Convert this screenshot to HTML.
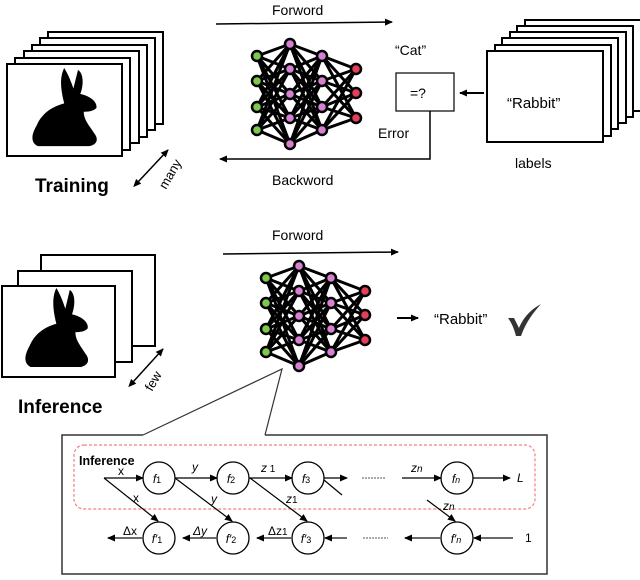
<!DOCTYPE html>
<html><head><meta charset="utf-8"><style>
body{margin:0;background:#fff}
svg{display:block}
text{font-family:"Liberation Sans",sans-serif}
</style></head><body>
<svg width="640" height="580" viewBox="0 0 640 580" xmlns="http://www.w3.org/2000/svg">
<defs>
<marker id="ah" markerWidth="8" markerHeight="8" refX="7" refY="4" orient="auto" markerUnits="userSpaceOnUse"><path d="M0,0.5 L8,4 L0,7.5 Z" fill="#000"/></marker>
<marker id="ah2" markerWidth="8" markerHeight="8" refX="1" refY="4" orient="auto-start-reverse" markerUnits="userSpaceOnUse"><path d="M0,0.5 L8,4 L0,7.5 Z" fill="#000"/></marker>
<path id="bun" d="M28,0 C32,8 34,15 36,22 L40,2 C45,6 45,18 42,28 C50,30 57,36 56,43 C53,47 48,47 45,47 C45,56 50,62 54,70 C58,76 57,82 50,84 L5,84 C-2,80 0,70 4,62 C8,50 16,42 28,38 C26,28 23,12 28,0 Z"/>
</defs>

<g fill="#fff" stroke="#000" stroke-width="2">
<rect x="48" y="32" width="115" height="92"/>
<rect x="40" y="38" width="115" height="92"/>
<rect x="32" y="45" width="115" height="92"/>
<rect x="24" y="51" width="115" height="92"/>
<rect x="15" y="58" width="115" height="92"/>
<rect x="7" y="64" width="115" height="92"/>
</g>
<use href="#bun" transform="translate(32,68) scale(1.15,0.93)" fill="#000"/>
<line x1="138" y1="182" x2="168" y2="150" stroke="#000" stroke-width="1.5" marker-start="url(#ah2)" marker-end="url(#ah)"/>
<text x="166" y="190" font-size="13" transform="rotate(-60 166 190)">many</text>
<text x="35" y="192" font-size="19" font-weight="bold">Training</text>

<text x="272" y="15" font-size="14">Forword</text>
<line x1="216" y1="24" x2="392" y2="22" stroke="#000" stroke-width="1.5" marker-end="url(#ah)"/>

<g id="net1" stroke="#000" stroke-width="3">
<g>
<line x1="257" y1="56" x2="290" y2="44"/><line x1="257" y1="56" x2="290" y2="69"/><line x1="257" y1="56" x2="290" y2="94"/><line x1="257" y1="56" x2="290" y2="118"/><line x1="257" y1="56" x2="290" y2="144"/>
<line x1="257" y1="81" x2="290" y2="44"/><line x1="257" y1="81" x2="290" y2="69"/><line x1="257" y1="81" x2="290" y2="94"/><line x1="257" y1="81" x2="290" y2="118"/><line x1="257" y1="81" x2="290" y2="144"/>
<line x1="257" y1="107" x2="290" y2="44"/><line x1="257" y1="107" x2="290" y2="69"/><line x1="257" y1="107" x2="290" y2="94"/><line x1="257" y1="107" x2="290" y2="118"/><line x1="257" y1="107" x2="290" y2="144"/>
<line x1="257" y1="130" x2="290" y2="44"/><line x1="257" y1="130" x2="290" y2="69"/><line x1="257" y1="130" x2="290" y2="94"/><line x1="257" y1="130" x2="290" y2="118"/><line x1="257" y1="130" x2="290" y2="144"/>
<line x1="322" y1="56" x2="290" y2="44"/><line x1="322" y1="56" x2="290" y2="69"/><line x1="322" y1="56" x2="290" y2="94"/><line x1="322" y1="56" x2="290" y2="118"/><line x1="322" y1="56" x2="290" y2="144"/>
<line x1="322" y1="81" x2="290" y2="44"/><line x1="322" y1="81" x2="290" y2="69"/><line x1="322" y1="81" x2="290" y2="94"/><line x1="322" y1="81" x2="290" y2="118"/><line x1="322" y1="81" x2="290" y2="144"/>
<line x1="322" y1="107" x2="290" y2="44"/><line x1="322" y1="107" x2="290" y2="69"/><line x1="322" y1="107" x2="290" y2="94"/><line x1="322" y1="107" x2="290" y2="118"/><line x1="322" y1="107" x2="290" y2="144"/>
<line x1="322" y1="130" x2="290" y2="44"/><line x1="322" y1="130" x2="290" y2="69"/><line x1="322" y1="130" x2="290" y2="94"/><line x1="322" y1="130" x2="290" y2="118"/><line x1="322" y1="130" x2="290" y2="144"/>
<line x1="322" y1="56" x2="356" y2="69"/><line x1="322" y1="56" x2="356" y2="93"/><line x1="322" y1="56" x2="356" y2="118"/>
<line x1="322" y1="81" x2="356" y2="69"/><line x1="322" y1="81" x2="356" y2="93"/><line x1="322" y1="81" x2="356" y2="118"/>
<line x1="322" y1="107" x2="356" y2="69"/><line x1="322" y1="107" x2="356" y2="93"/><line x1="322" y1="107" x2="356" y2="118"/>
<line x1="322" y1="130" x2="356" y2="69"/><line x1="322" y1="130" x2="356" y2="93"/><line x1="322" y1="130" x2="356" y2="118"/>
</g>
<g stroke-width="2.5">
<circle cx="257" cy="56" r="5" fill="#7ec850"/><circle cx="257" cy="81" r="5" fill="#7ec850"/><circle cx="257" cy="107" r="5" fill="#7ec850"/><circle cx="257" cy="130" r="5" fill="#7ec850"/>
<circle cx="290" cy="44" r="5" fill="#d77fd0"/><circle cx="290" cy="69" r="5" fill="#d77fd0"/><circle cx="290" cy="94" r="5" fill="#d77fd0"/><circle cx="290" cy="118" r="5" fill="#d77fd0"/><circle cx="290" cy="144" r="5" fill="#d77fd0"/>
<circle cx="322" cy="56" r="5" fill="#d77fd0"/><circle cx="322" cy="81" r="5" fill="#d77fd0"/><circle cx="322" cy="107" r="5" fill="#d77fd0"/><circle cx="322" cy="130" r="5" fill="#d77fd0"/>
<circle cx="356" cy="69" r="5" fill="#e0405a"/><circle cx="356" cy="93" r="5" fill="#e0405a"/><circle cx="356" cy="118" r="5" fill="#e0405a"/>
</g>
</g>

<text x="395" y="55" font-size="14">“Cat”</text>
<rect x="396" y="73" width="58" height="38" fill="#fff" stroke="#000" stroke-width="1.2"/>
<text x="410" y="98" font-size="14">=?</text>
<text x="378" y="138" font-size="14">Error</text>
<polyline points="430,111 430,159 220,159" fill="none" stroke="#000" stroke-width="1.5" marker-end="url(#ah)"/>
<text x="272" y="185" font-size="14">Backword</text>
<line x1="484" y1="93" x2="460" y2="93" stroke="#000" stroke-width="2" marker-end="url(#ah)"/>

<g fill="#fff" stroke="#000" stroke-width="2">
<rect x="525" y="20" width="116" height="91"/>
<rect x="517" y="26" width="116" height="91"/>
<rect x="510" y="32" width="116" height="91"/>
<rect x="502" y="38" width="116" height="91"/>
<rect x="495" y="45" width="116" height="91"/>
<rect x="487" y="51" width="116" height="91"/>
</g>
<text x="507" y="108" font-size="15">“Rabbit”</text>
<text x="515" y="168" font-size="14">labels</text>

<g fill="#fff" stroke="#000" stroke-width="2">
<rect x="41" y="255" width="114" height="91"/>
<rect x="18" y="271" width="114" height="91"/>
<rect x="2" y="286" width="113" height="91"/>
</g>
<use href="#bun" transform="translate(25,288) scale(1.12,0.94)" fill="#000"/>
<line x1="133" y1="382" x2="163" y2="349" stroke="#000" stroke-width="1.5" marker-start="url(#ah2)" marker-end="url(#ah)"/>
<text x="152" y="392" font-size="13" transform="rotate(-60 152 392)">few</text>
<text x="18" y="413" font-size="19" font-weight="bold">Inference</text>

<text x="272" y="240" font-size="14">Forword</text>
<line x1="223" y1="254" x2="398" y2="252" stroke="#000" stroke-width="1.5" marker-end="url(#ah)"/>

<use href="#net1" transform="translate(9,222)"/>

<line x1="397" y1="318" x2="418" y2="318" stroke="#000" stroke-width="2" marker-end="url(#ah)"/>
<text x="434" y="324" font-size="15">“Rabbit”</text>
<path d="M508,318 L514,318 L519,328 C524,316 532,309 541,304 C533,313 526,322 521,336 L516,336 C514,328 511,322 508,318 Z" fill="#333"/>

<polyline points="143,435 282,369 265,435" fill="none" stroke="#333" stroke-width="1.2"/>
<polyline points="143,435 62,435 62,574 547,574 547,435 265,435" fill="none" stroke="#333" stroke-width="1.5"/>
<rect x="74" y="445" width="461" height="64" rx="10" fill="none" stroke="#f08080" stroke-width="1.2" stroke-dasharray="3,2"/>
<text x="79" y="465" font-size="12.5" font-weight="bold">Inference</text>

<g fill="#fff" stroke="#000" stroke-width="1.3">
<circle cx="159" cy="478" r="16"/><circle cx="233" cy="478" r="16"/><circle cx="308" cy="478" r="16"/><circle cx="457" cy="478" r="16"/>
<circle cx="159" cy="538" r="16"/><circle cx="233" cy="538" r="16"/><circle cx="308" cy="538" r="16"/><circle cx="457" cy="538" r="16"/>
</g>
<g font-family="Liberation Serif,serif" font-style="italic" font-size="12" text-anchor="middle">
<text x="157" y="483">f<tspan font-size="9" font-style="normal">1</tspan></text>
<text x="231" y="483">f<tspan font-size="9" font-style="normal">2</tspan></text>
<text x="306" y="483">f<tspan font-size="9" font-style="normal">3</tspan></text>
<text x="456" y="483">f<tspan font-size="9">n</tspan></text>
<text x="157" y="543">f′<tspan font-size="9" font-style="normal">1</tspan></text>
<text x="231" y="543">f′<tspan font-size="9" font-style="normal">2</tspan></text>
<text x="306" y="543">f′<tspan font-size="9" font-style="normal">3</tspan></text>
<text x="456" y="543">f′<tspan font-size="9">n</tspan></text>
</g>
<g stroke="#000" stroke-width="1.2" fill="none">
<line x1="104" y1="478" x2="143" y2="478" marker-end="url(#ah)"/>
<line x1="175" y1="478" x2="217" y2="478" marker-end="url(#ah)"/>
<line x1="249" y1="478" x2="292" y2="478" marker-end="url(#ah)"/>
<line x1="324" y1="478" x2="347" y2="478" marker-end="url(#ah)"/>
<line x1="402" y1="478" x2="441" y2="478" marker-end="url(#ah)"/>
<line x1="473" y1="478" x2="510" y2="478" marker-end="url(#ah)"/>
<line x1="104" y1="478" x2="158" y2="521" marker-end="url(#ah)"/>
<line x1="175" y1="478" x2="232" y2="521" marker-end="url(#ah)"/>
<line x1="250" y1="478" x2="307" y2="521" marker-end="url(#ah)"/>
<line x1="324" y1="480" x2="342" y2="495"/>
<line x1="427" y1="500" x2="455" y2="521" marker-end="url(#ah)"/>
</g>
<g stroke="#555" stroke-width="1.8" fill="none">
<line x1="143" y1="538" x2="108" y2="538" marker-end="url(#ah)"/>
<line x1="217" y1="538" x2="183" y2="538" marker-end="url(#ah)"/>
<line x1="292" y1="538" x2="257" y2="538" marker-end="url(#ah)"/>
<line x1="347" y1="538" x2="325" y2="538" marker-end="url(#ah)"/>
<line x1="441" y1="538" x2="405" y2="538" marker-end="url(#ah)"/>
<line x1="513" y1="538" x2="474" y2="538" marker-end="url(#ah)"/>
</g>
<g stroke="#555" stroke-width="1" stroke-dasharray="2,1">
<line x1="362" y1="478" x2="386" y2="478"/><line x1="363" y1="538" x2="388" y2="538"/>
</g>
<g font-family="Liberation Serif,serif" font-size="12">
<text x="118" y="475">x</text>
<text x="192" y="471" font-style="italic">y</text>
<text x="261" y="472" font-style="italic">z<tspan font-size="10" font-style="normal"> 1</tspan></text>
<text x="411" y="472" font-style="italic">z<tspan font-size="10">n</tspan></text>
<text x="517" y="482" font-style="italic">L</text>
<text x="133" y="502">x</text>
<text x="211" y="503" font-style="italic">y</text>
<text x="286" y="503" font-style="italic">z<tspan font-size="10" font-style="normal">1</tspan></text>
<text x="443" y="510" font-style="italic">z<tspan font-size="10">n</tspan></text>
<text x="123" y="535">Δx</text>
<text x="193" y="535" font-style="italic">Δy</text>
<text x="268" y="535">Δz<tspan font-size="10">1</tspan></text>
<text x="525" y="542">1</text>
</g>
</svg>
</body></html>
